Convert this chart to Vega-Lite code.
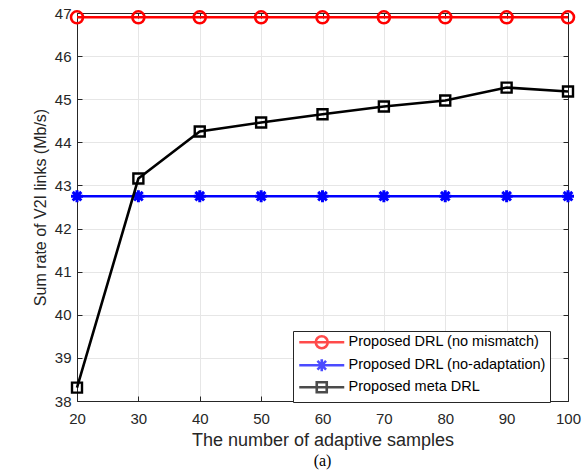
{
  "$schema": "https://vega.github.io/schema/vega-lite/v6.json",
  "width": 491,
  "height": 388,
  "autosize": {"type": "none"},
  "padding": {"left": 77, "top": 13, "right": 14, "bottom": 69},
  "background": "white",
  "title": {"text": "(a)", "orient": "bottom", "font": "Liberation Serif", "fontSize": 16, "fontWeight": "normal", "color": "black", "offset": 4},
  "config": {
    "view": {"stroke": null},
    "axis": {
      "domainColor": "#262626", "tickColor": "#262626", "labelColor": "#262626", "titleColor": "#262626",
      "labelFont": "Liberation Sans", "titleFont": "Liberation Sans", "labelFontSize": 15, "titleFontSize": 16,
      "titleFontWeight": "normal", "gridColor": "#e6e6e6", "gridWidth": 1, "tickSize": -5, "domainWidth": 1, "tickWidth": 1, "labelFlush": false
    }
  },
  "data": {"values": [
    {"series": "Proposed DRL (no mismatch)", "x": 20, "y": 46.9},
    {"series": "Proposed DRL (no mismatch)", "x": 30, "y": 46.9},
    {"series": "Proposed DRL (no mismatch)", "x": 40, "y": 46.9},
    {"series": "Proposed DRL (no mismatch)", "x": 50, "y": 46.9},
    {"series": "Proposed DRL (no mismatch)", "x": 60, "y": 46.9},
    {"series": "Proposed DRL (no mismatch)", "x": 70, "y": 46.9},
    {"series": "Proposed DRL (no mismatch)", "x": 80, "y": 46.9},
    {"series": "Proposed DRL (no mismatch)", "x": 90, "y": 46.9},
    {"series": "Proposed DRL (no mismatch)", "x": 100, "y": 46.9},
    {"series": "Proposed DRL (no-adaptation)", "x": 20, "y": 42.75},
    {"series": "Proposed DRL (no-adaptation)", "x": 30, "y": 42.75},
    {"series": "Proposed DRL (no-adaptation)", "x": 40, "y": 42.75},
    {"series": "Proposed DRL (no-adaptation)", "x": 50, "y": 42.75},
    {"series": "Proposed DRL (no-adaptation)", "x": 60, "y": 42.75},
    {"series": "Proposed DRL (no-adaptation)", "x": 70, "y": 42.75},
    {"series": "Proposed DRL (no-adaptation)", "x": 80, "y": 42.75},
    {"series": "Proposed DRL (no-adaptation)", "x": 90, "y": 42.75},
    {"series": "Proposed DRL (no-adaptation)", "x": 100, "y": 42.75},
    {"series": "Proposed meta DRL", "x": 20, "y": 38.31},
    {"series": "Proposed meta DRL", "x": 30, "y": 43.16},
    {"series": "Proposed meta DRL", "x": 40, "y": 44.25},
    {"series": "Proposed meta DRL", "x": 50, "y": 44.46},
    {"series": "Proposed meta DRL", "x": 60, "y": 44.65},
    {"series": "Proposed meta DRL", "x": 70, "y": 44.83},
    {"series": "Proposed meta DRL", "x": 80, "y": 44.97},
    {"series": "Proposed meta DRL", "x": 90, "y": 45.27},
    {"series": "Proposed meta DRL", "x": 100, "y": 45.18}
  ]},
  "encoding": {
    "x": {"field": "x", "type": "quantitative", "scale": {"domain": [20, 100], "nice": false, "zero": false}},
    "y": {"field": "y", "type": "quantitative", "scale": {"domain": [38, 47], "nice": false, "zero": false}}
  },
  "layer": [
    {
      "mark": {"type": "rule", "opacity": 0},
      "encoding": {
        "x": {"field": "x", "type": "quantitative", "axis": {"orient": "bottom", "values": [20,30,40,50,60,70,80,90,100], "title": "The number of adaptive samples", "titleFontSize": 18, "labelPadding": 15, "titlePadding": 5, "grid": true}},
        "y": {"field": "y", "type": "quantitative", "axis": {"orient": "left", "values": [38,39,40,41,42,43,44,45,46,47], "title": "Sum rate of V2I links (Mb/s)", "labelPadding": 11, "titlePadding": 6, "grid": true}}
      }
    },
    {
      "mark": {"type": "rule", "opacity": 0},
      "encoding": {
        "x": {"field": "x", "type": "quantitative", "axis": {"orient": "top", "values": [20,30,40,50,60,70,80,90,100], "labels": false, "title": null, "grid": false}},
        "y": {"field": "y", "type": "quantitative", "axis": {"orient": "right", "values": [38,39,40,41,42,43,44,45,46,47], "labels": false, "title": null, "grid": false}}
      }
    },
    {
      "transform": [{"filter": "datum.series === 'Proposed DRL (no mismatch)'"}],
      "mark": {"type": "line", "color": "#ff0000", "strokeWidth": 2.6, "clip": false,
        "point": {"shape": "M-1,0A1,1 0 1,0 1,0A1,1 0 1,0 -1,0Z", "filled": false, "size": 144, "strokeWidth": 2.6, "color": "#ff0000"}},
      "encoding": {"x": {"field": "x", "type": "quantitative", "axis": null}, "y": {"field": "y", "type": "quantitative", "axis": null}}
    },
    {
      "transform": [{"filter": "datum.series === 'Proposed DRL (no-adaptation)'"}],
      "mark": {"type": "line", "color": "#0000ff", "strokeWidth": 2.6, "clip": false,
        "point": {"shape": "M0,-1V1M-1,0H1M-0.72,-0.72L0.72,0.72M-0.72,0.72L0.72,-0.72", "filled": false, "size": 144, "strokeWidth": 3, "color": "#0000ff"}},
      "encoding": {"x": {"field": "x", "type": "quantitative", "axis": null}, "y": {"field": "y", "type": "quantitative", "axis": null}}
    },
    {
      "transform": [{"filter": "datum.series === 'Proposed meta DRL'"}],
      "mark": {"type": "line", "color": "#000000", "strokeWidth": 2.6, "clip": false,
        "point": {"shape": "M-1,-1H1V1H-1Z", "filled": false, "size": 100, "strokeWidth": 2.4, "color": "#000000"}},
      "encoding": {"x": {"field": "x", "type": "quantitative", "axis": null}, "y": {"field": "y", "type": "quantitative", "axis": null}}
    },
    {
      "transform": [{"filter": "datum.x < 0"}],
      "mark": {"type": "point", "filled": false, "strokeWidth": 2.6},
      "encoding": {
        "x": {"field": "x", "type": "quantitative", "axis": null},
        "y": {"field": "y", "type": "quantitative", "axis": null},
        "color": {"field": "series", "type": "nominal",
          "scale": {"domain": ["Proposed DRL (no mismatch)", "Proposed DRL (no-adaptation)", "Proposed meta DRL"], "range": ["#ff0000", "#0000ff", "#000000"]},
          "legend": {"title": null, "orient": "none", "legendX": 216, "legendY": 318, "strokeColor": "#262626", "fillColor": "white", "padding": 4,
            "symbolSize": 100, "symbolStrokeWidth": 2.6, "labelFontSize": 14.5, "labelFont": "Liberation Sans", "labelColor": "black", "labelLimit": 0, "rowPadding": 0, "labelOffset": 37}},
        "shape": {"field": "series", "type": "nominal",
          "scale": {"domain": ["Proposed DRL (no mismatch)", "Proposed DRL (no-adaptation)", "Proposed meta DRL"],
            "range": ["M-1,0H8M2.3,0A1.2,1.2 0 1,0 4.7,0A1.2,1.2 0 1,0 2.3,0Z",
                      "M-1,0H8M3.5,-1.2V1.2M2.3,0H4.7M2.64,-0.86L4.36,0.86M2.64,0.86L4.36,-0.86",
                      "M-1,0H8M2.5,-1H4.5V1H2.5Z"]},
          "legend": {"title": null, "orient": "none", "legendX": 216, "legendY": 318, "strokeColor": "#262626", "fillColor": "white", "padding": 4,
            "symbolSize": 100, "symbolStrokeWidth": 2.6, "labelFontSize": 14.5, "labelFont": "Liberation Sans", "labelColor": "black", "labelLimit": 0, "rowPadding": 0, "labelOffset": 37}}
      }
    }
  ],
  "resolve": {"axis": {"x": "independent", "y": "independent"}}
}
